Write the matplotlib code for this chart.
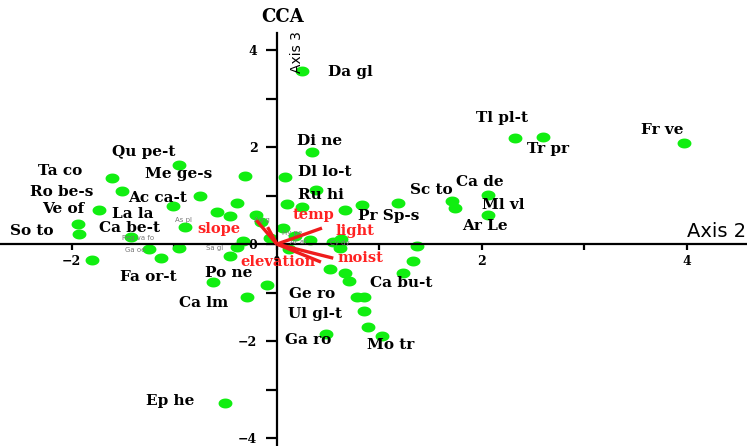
import numpy as np
import matplotlib
matplotlib.use("Agg")
import matplotlib.pyplot as plt
from matplotlib.path import Path

# site / species scores (Axis 2, Axis 3)
site_x = [0.25, 0.34, 0.08, 0.38, 0.10, 0.25, 0.66, 0.83, 1.18, 1.71, 1.74, 2.06, 2.06,
          2.32, 2.60, 3.97, 1.37, 1.33, 1.23, 0.52, 0.66, 0.70, 0.78, 0.85, 0.85, 0.89,
          1.03, 0.48, -0.10, -0.51, -0.95, -0.31, -1.61, -1.51, -0.75, -1.01, -0.39,
          -1.73, -1.94, -1.93, -0.58, -0.46, -0.20, -0.90, -1.42, -0.33, -0.39, -0.95,
          -1.25, -1.13, -1.80, -0.46, -0.62, -0.29, 0.55, 0.62, 0.06, 0.18, 0.32, -0.07,
          -0.15, 0.63, 0.12]
site_y = [3.57, 1.90, 1.38, 1.11, 0.82, 0.76, 0.70, 0.80, 0.85, 0.89, 0.74, 1.01, 0.60,
          2.19, 2.21, 2.08, -0.04, -0.35, -0.60, -0.52, -0.60, -0.76, -1.09, -1.09, -1.38,
          -1.71, -1.90, -1.86, -0.85, -3.28, 1.63, 1.40, 1.36, 1.09, 0.99, 0.78, 0.85,
          0.70, 0.41, 0.21, 0.66, 0.58, 0.60, 0.35, 0.14, 0.06, -0.06, -0.08,
          -0.10, -0.29, -0.33, -0.25, -0.78, -1.09, 0.04, -0.08, 0.33, 0.16, 0.08, 0.12,
          0.45, 0.10, -0.10]

species = ["Da gl", "Di ne", "Dl lo-t", "Ru hi", "Pr Sp-s", "Sc to", "Ca de", "Ml vl",
           "Ar Le", "Tl pl-t", "Tr pr", "Fr ve", "Qu pe-t", "Me ge-s", "Ta co", "Ro be-s",
           "Ac ca-t", "Ve of", "La la", "So to", "Ca be-t", "Fa or-t", "Po ne", "Ca lm",
           "Ge ro", "Ul gl-t", "Ga ro", "Ca bu-t", "Mo tr", "Ep he"]
species_x = [0.50, 0.20, 0.21, 0.21, 0.79, 1.30, 1.75, 2.00, 1.81, 1.94, 2.44, 3.55,
             -1.61, -1.29, -2.33, -2.41, -1.45, -2.29, -1.61, -2.60, -1.73, -1.53, -0.70,
             -0.95, 0.12, 0.11, 0.08, 0.91, 0.88, -1.28]
species_y = [3.55, 2.12, 1.48, 1.01, 0.58, 1.11, 1.28, 0.80, 0.37, 2.60, 1.96, 2.35,
             1.90, 1.44, 1.51, 1.07, 0.95, 0.72, 0.62, 0.27, 0.33, -0.68, -0.59,
             -1.22, -1.03, -1.44, -1.98, -0.80, -2.08, -3.24]

# small unreadable labels near the centre
minor_names = ["Peg va fo", "Ga oe", "Sa gl", "As pl", "Hy pe", "Ar af", "Cy dy", "Ag g"]
minor_x = [-1.51, -1.48, -0.69, -0.99, 0.05, 0.13, 0.52, -0.22]
minor_y = [0.12, -0.12, -0.08, 0.49, 0.23, 0.04, 0.02, 0.49]

# environmental vectors
env_x = [-0.20, -0.09, 0.44, 0.55, 0.43]
env_y = [0.49, 0.35, 0.33, -0.29, -0.37]
env_names = ["slope", "temp", "light", "moist", "elevation"]
env_lab_x = [-0.78, 0.15, 0.57, 0.59, -0.36]
env_lab_y = [0.31, 0.60, 0.27, -0.29, -0.36]

fig = plt.figure(figsize=(7.47, 4.46), dpi=100)
ax = fig.add_axes([0, 0, 1, 1])
ax.set_xlim(-2.70, 4.585)
ax.set_ylim(-4.16, 5.03)

for s in ["top", "right"]:
    ax.spines[s].set_visible(False)
ax.spines["left"].set_position(("data", 0))
ax.spines["bottom"].set_position(("data", 0))
ax.spines["left"].set_bounds(-4.16, 4.35)
ax.spines["left"].set_linewidth(1.6)
ax.spines["bottom"].set_linewidth(1.6)

ax.set_xticks([-2, 0, 2, 4])
ax.set_xticks([-1, 1, 3], minor=True)
ax.set_yticks([-4, -2, 0, 2, 4])
ax.set_yticks([-3, -1, 1, 3], minor=True)
ax.tick_params(axis="x", which="both", direction="out", length=4, width=1.6, pad=4)
ax.tick_params(axis="y", which="both", direction="out", length=8, width=1.6, pad=6)
for lab in ax.get_xticklabels() + ax.get_yticklabels():
    lab.set_fontfamily("DejaVu Serif")
    lab.set_fontweight("bold")
    lab.set_fontsize(9)
# the x "0" sits small under the origin
ax.get_xticklabels()[1].set_fontsize(6)

# elliptical marker (the reference is stretched horizontally)
t = np.linspace(0, 2 * np.pi, 40)
ell = Path(np.column_stack([1.4 * np.cos(t), np.sin(t)]), closed=True)
ax.plot(site_x, site_y, linestyle="none", marker=ell, markersize=10,
        color="#11ee11", markeredgewidth=0, zorder=2)

for name, x, y in zip(minor_names, minor_x, minor_y):
    ax.text(x, y, name, fontsize=5, color="#777777", ha="left", va="center", zorder=3)

for vx, vy in zip(env_x, env_y):
    ax.plot([0, vx], [0, vy], color="#ee1c1c", linewidth=2.4, solid_capstyle="butt", zorder=4)

for name, x, y in zip(env_names, env_lab_x, env_lab_y):
    ax.text(x, y, name, fontsize=10.5, fontweight="bold", family="DejaVu Serif",
            color="#ff2222", ha="left", va="center", zorder=5)

for name, x, y in zip(species, species_x, species_y):
    ax.text(x, y, name, fontsize=11, fontweight="bold", family="DejaVu Serif",
            color="black", ha="left", va="center", zorder=5)

ax.text(0.06, 4.68, "CCA", fontsize=13, fontweight="bold", family="DejaVu Serif",
        ha="center", va="center")
ax.text(4.58, 0.25, "Axis 2", fontsize=14, family="DejaVu Sans", ha="right", va="center")
ax.text(0.20, 3.96, "Axis 3", fontsize=10, family="DejaVu Sans", rotation=90,
        ha="center", va="center")

fig.savefig("out.png", dpi=100)
